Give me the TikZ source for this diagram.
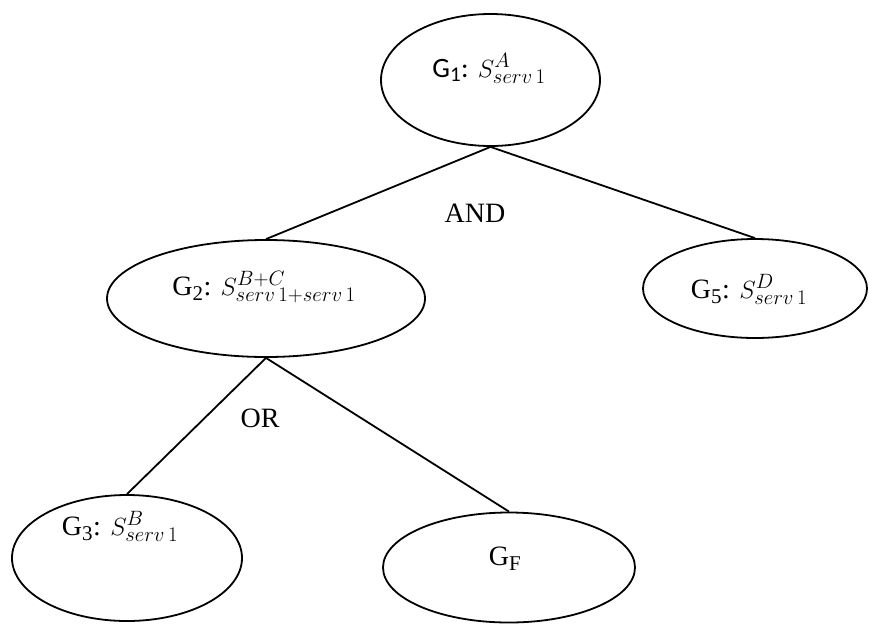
\documentclass[tikz,border=0pt]{standalone}
\usepackage{fontspec}
\setmainfont{Liberation Serif}
\newfontfamily\labelserif{Liberation Serif}
\newfontfamily\labelsans{Carlito}
\DeclareMathSizes{28}{28}{21}{16}
\usetikzlibrary{shapes.geometric}
\begin{document}
\begin{tikzpicture}[x=1pt, y=-1pt,
  goal/.style={draw, ellipse, line width=1.8pt, inner sep=0pt},
  txt/.style={font=\labelserif\fontsize{28}{32}\selectfont, inner sep=0pt, anchor=base},
  link/.style={line width=1.8pt}]
  \useasboundingbox (0,0) rectangle (869,624);
  % goal ellipses
  \node[goal, minimum width=219pt, minimum height=132pt] (e1) at (490.5,80) {};
  \node[goal, minimum width=318pt, minimum height=117pt] (e2) at (266,298.5) {};
  \node[goal, minimum width=224pt, minimum height=99pt]  (e5) at (755,288.5) {};
  \node[goal, minimum width=230pt, minimum height=126pt] (e3) at (127,558) {};
  \node[goal, minimum width=252pt, minimum height=110pt] (ef) at (509,567.5) {};
  % goal texts
  \node[txt] (t1) at (489,77) {{\labelsans G\textsubscript{1}:} $S^{A}_{serv\,1}$};
  \node[txt] (t2) at (264,295) {G\textsubscript{2}: $S^{B+C}_{serv\,1+serv\,1}$};
  \node[txt] (t5) at (749,298) {G\textsubscript{5}: $S^{D}_{serv\,1}$};
  \node[txt] (t3) at (120,535) {G\textsubscript{3}: $S^{B}_{serv\,1}$};
  \node[txt] (tf) at (505,565) {G\textsubscript{F}};
  % decomposition links
  \draw[link] (e1.south) -- (e2.north);
  \draw[link] (e1.south) -- (e5.north);
  \draw[link] (e2.south) -- (e3.north);
  \draw[link] (e2.south) -- (ef.north);
  % refinement labels
  \node[txt] (and) at (475,222) {AND};
  \node[txt] (or) at (260,427) {OR};
\end{tikzpicture}
\end{document}
